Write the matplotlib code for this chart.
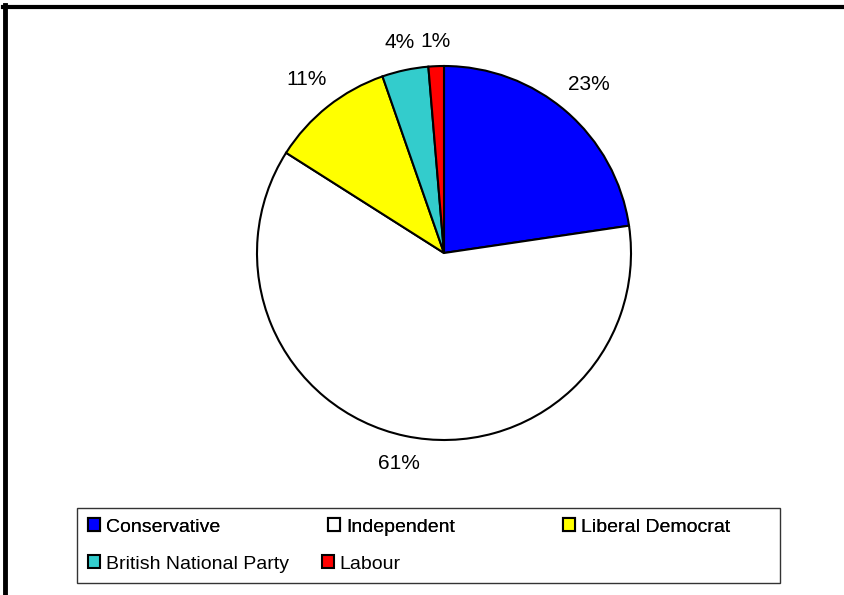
import numpy as np
import matplotlib
matplotlib.use("Agg")
import matplotlib.pyplot as plt
from matplotlib.patches import Rectangle
from matplotlib.lines import Line2D

plt.rcParams['font.family'] = ['Liberation Sans', 'DejaVu Sans']

parties = ["Conservative", "Independent", "Liberal Democrat", "British National Party", "Labour"]
seats = [17, 46, 8, 3, 1]
colors = ["#0000FF", "#FFFFFF", "#FFFF00", "#33CCCC", "#FF0000"]

W, H = 845, 595
fig = plt.figure(figsize=(W / 100, H / 100), dpi=100)

cx, cy, r = 444, 253, 187
ax = fig.add_axes([(cx - r) / W, (H - cy - r) / H, 2 * r / W, 2 * r / H])
wedges, texts, autotexts = ax.pie(
    seats, colors=colors, startangle=90, counterclock=False,
    autopct='%1.0f%%', pctdistance=1.16, radius=1,
    wedgeprops=dict(edgecolor='black', linewidth=1.5),
    textprops=dict(fontsize=15, color='black'))
# place labels just outside the rim, a bit farther for side labels (Excel style)
for w, t in zip(wedges, autotexts):
    th = np.deg2rad((w.theta1 + w.theta2) / 2)
    d = 1.13 + 0.09 * abs(np.cos(th))
    t.set_position((d * np.cos(th), d * np.sin(th)))
ax.set_xlim(-1, 1)
ax.set_ylim(-1, 1)
ax.set_aspect('equal')
ax.axis('off')

# outer chart frame (top and left edges visible)
fig.add_artist(Line2D([3 / W, 1], [1 - 7 / H, 1 - 7 / H], transform=fig.transFigure,
                      color='black', linewidth=3))
fig.add_artist(Line2D([5 / W, 5 / W], [0, 1 - 5 / H], transform=fig.transFigure,
                      color='black', linewidth=3.5))

# legend frame
fig.add_artist(Rectangle((77 / W, 1 - 583 / H), (780 - 77) / W, (583 - 508) / H,
                         transform=fig.transFigure, fill=False,
                         edgecolor='#333333', linewidth=1))

common = dict(frameon=False, loc='center left', borderpad=0, borderaxespad=0,
              handlelength=0.62, handleheight=0.62, handletextpad=0.3,
              prop=dict(family='Liberation Sans', size=14), bbox_transform=fig.transFigure)
leg1 = fig.legend(wedges[:3], parties[:3], ncol=3, columnspacing=5.55,
                  bbox_to_anchor=(88 / W, 1 - 527 / H), **common)
fig.add_artist(leg1)
leg2 = fig.legend(wedges[3:], parties[3:], ncol=2, columnspacing=1.7,
                  bbox_to_anchor=(88 / W, 1 - 564 / H), **common)

fig.savefig("out.png", dpi=100, facecolor='white')
